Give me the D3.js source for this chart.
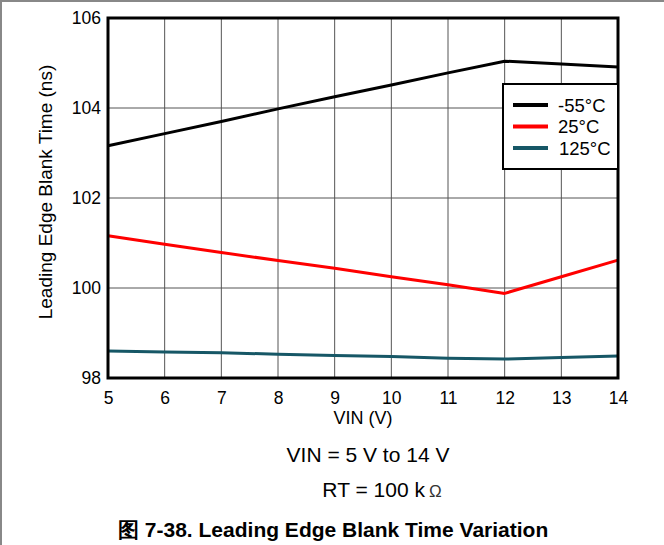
<!DOCTYPE html>
<html><head><meta charset="utf-8">
<script src="https://cdn.jsdelivr.net/npm/d3@7/dist/d3.min.js"></script>
<style>body{margin:0;background:#fff;} svg{display:block;font-family:Arial,"Liberation Sans",sans-serif;}</style>
</head><body>
<script>
const vin = [5,6,7,8,9,10,11,12,13,14];
const tMinus55 = [103.16,103.43,103.70,103.98,104.25,104.51,104.78,105.04,104.98,104.91];
const t25 = [101.16,100.97,100.79,100.61,100.44,100.25,100.07,99.88,100.25,100.62];
const t125 = [98.60,98.58,98.56,98.53,98.50,98.48,98.44,98.42,98.455,98.49];
const seriesNames = ["-55°C","25°C","125°C"];
const seriesColors = ["#000000","#ff0000","#165766"];
const xTicks = [5,6,7,8,9,10,11,12,13,14];
const yTicks = [98,100,102,104,106];

const W=664,H=545;
const FF="Arial,'Liberation Sans',sans-serif";
const svg=d3.select("body").append("svg").attr("width",W).attr("height",H);
svg.append("line").attr("x1",0).attr("x2",W).attr("y1",1).attr("y2",1).attr("stroke","#888").attr("stroke-width",2);
svg.append("line").attr("x1",1).attr("x2",1).attr("y1",0).attr("y2",H).attr("stroke","#888").attr("stroke-width",2);

const L=108,R=618,T=18,B=378;
const x=d3.scaleLinear().domain([5,14]).range([L,R]);
const y=d3.scaleLinear().domain([98,106]).range([B,T]);

const g=svg.append("g");
g.selectAll(".vg").data(xTicks.slice(1,-1)).enter().append("line")
 .attr("x1",d=>x(d)).attr("x2",d=>x(d)).attr("y1",T).attr("y2",B).attr("stroke","#555").attr("stroke-width",1);
g.selectAll(".hg").data(yTicks.slice(1,-1)).enter().append("line")
 .attr("x1",L).attr("x2",R).attr("y1",d=>y(d)).attr("y2",d=>y(d)).attr("stroke","#555").attr("stroke-width",1);

const xa=svg.append("g").attr("transform",`translate(0,${B})`)
 .call(d3.axisBottom(x).tickValues(xTicks).tickSize(0).tickPadding(14).tickFormat(d3.format("d")));
xa.select(".domain").remove();
xa.selectAll("text").attr("font-size",17.5).attr("fill","#000").attr("font-family",FF);
const ya=svg.append("g").attr("transform",`translate(${L},0)`)
 .call(d3.axisLeft(y).tickValues(yTicks).tickSize(0).tickPadding(7).tickFormat(d3.format("d")));
ya.select(".domain").remove();
ya.selectAll("text").attr("font-size",17.5).attr("fill","#000").attr("font-family",FF);

const data=[tMinus55,t25,t125];
const line=d3.line().x((d,i)=>x(vin[i])).y(d=>y(d));
data.forEach((s,k)=>{
  g.append("path").datum(s).attr("d",line).attr("fill","none").attr("stroke",seriesColors[k]).attr("stroke-width",3).attr("stroke-linejoin","round");
});

g.append("rect").attr("x",L).attr("y",T).attr("width",R-L).attr("height",B-T).attr("fill","none").attr("stroke","#000").attr("stroke-width",3);

const lg=svg.append("g");
lg.append("rect").attr("x",503).attr("y",84).attr("width",R-503).attr("height",85).attr("fill","#fff").attr("stroke","#000").attr("stroke-width",2);
seriesNames.forEach((n,k)=>{
  const yy=105+k*21.5;
  lg.append("line").attr("x1",513).attr("x2",548).attr("y1",yy).attr("y2",yy).attr("stroke",seriesColors[k]).attr("stroke-width",4);
  lg.append("text").attr("x",k==2?559:558).attr("y",yy+6.5).attr("font-size",18.5).text(n);
});

svg.append("text").attr("x",363).attr("y",424).attr("text-anchor","middle").attr("font-size",18).text("VIN (V)");
svg.append("text").attr("transform","translate(52,192) rotate(-90)").attr("text-anchor","middle").attr("font-size",19).text("Leading Edge Blank Time (ns)");
svg.append("text").attr("x",368).attr("y",462).attr("text-anchor","middle").attr("font-size",21).text("VIN = 5 V to 14 V");
const rt=svg.append("text").attr("x",382).attr("y",497).attr("text-anchor","middle").attr("font-size",21);
rt.append("tspan").text("RT = 100 k");
rt.append("tspan").attr("font-size",17).attr("dx",4).attr("fill","#333").text("Ω");
svg.append("text").attr("x",118).attr("y",537).attr("font-size",21).attr("font-weight","bold").text("图 7-38. Leading Edge Blank Time Variation");
</script>
</body></html>
